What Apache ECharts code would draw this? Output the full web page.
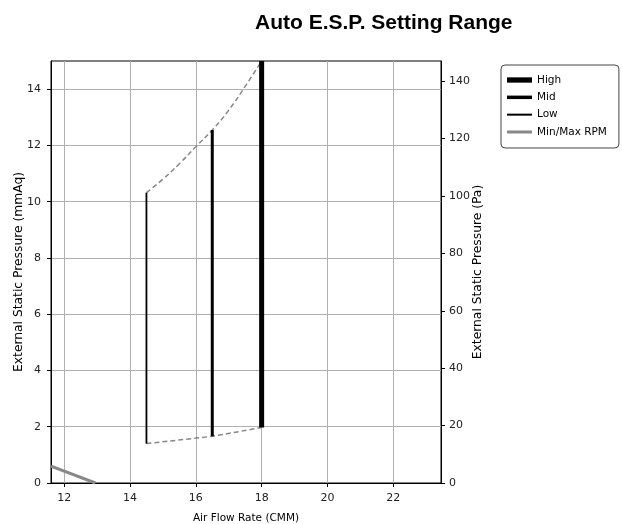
<!DOCTYPE html>
<html><head><meta charset="utf-8">
<script src="https://cdn.jsdelivr.net/npm/echarts@6/dist/echarts.min.js"></script>
<style>html,body{margin:0;padding:0;background:#fff}#c{width:622px;height:524px}</style>
</head><body><div id="c"></div>
<script>
const xTicks = [12, 14, 16, 18, 20, 22];
const yTicksMm = [0, 2, 4, 6, 8, 10, 12, 14];
const yTicksPa = [0, 20, 40, 60, 80, 100, 120, 140];
const highLine = [[18, 1.97], [18, 15.0]];
const midLine = [[16.5, 1.66], [16.5, 12.55]];
const lowLine = [[14.5, 1.4], [14.5, 10.32]];
const upperBound = [[14.5, 10.32], [15.0, 10.8], [15.5, 11.35], [16.0, 11.95], [16.5, 12.55], [17.0, 13.25], [17.5, 14.1], [18.0, 15.0]];
const lowerBound = [[14.5, 1.4], [16.5, 1.66], [18.0, 1.97]];
const minMaxRpm = [[11.6, 0.6], [12.95, 0.0]];

const font = 'DejaVu Sans';
const chart = echarts.init(document.getElementById('c'), null, {renderer: 'canvas'});
chart.setOption({
  animation: false,
  backgroundColor: '#fff',
  title: {text: 'Auto E.S.P. Setting Range', left: 250, top: 8,
    textStyle: {fontFamily: 'Liberation Sans', fontWeight: 'bold', fontSize: 21, color: '#000'}},
  grid: {left: 51, right: 181, top: 61, bottom: 41, containLabel: false, outerBoundsMode: 'none',
    show: true, borderColor: '#000', borderWidth: 1, backgroundColor: 'transparent'},
  legend: {
    left: 501, top: 65, orient: 'vertical', itemWidth: 25, itemHeight: 10, itemGap: 6.33,
    padding: [9.5, 12, 10.5, 6],
    borderColor: '#444', borderWidth: 1, borderRadius: 4,
    textStyle: {fontFamily: font, fontSize: 10.5, color: '#000'},
    data: [
      {name: 'High', icon: 'path://M0,0H50V10.6H0Z'},
      {name: 'Mid', icon: 'path://M0,0H50V7H0Z'},
      {name: 'Low', icon: 'path://M0,0H50V4H0Z'},
      {name: 'Min/Max RPM', icon: 'path://M0,0H50V6H0Z'}
    ]
  },
  xAxis: {
    type: 'value', min: 11.6, max: 23.45,
    name: 'Air Flow Rate (CMM)', nameLocation: 'middle', nameGap: 30,
    nameTextStyle: {fontFamily: font, fontSize: 10.5, color: '#000'},
    axisLine: {lineStyle: {color: '#000'}},
    axisTick: {customValues: xTicks, inside: false, length: 4, lineStyle: {color: '#000'}},
    axisLabel: {customValues: xTicks, fontFamily: font, fontSize: 11, color: '#222', margin: 10},
    splitLine: {show: true, lineStyle: {color: '#b0b0b0', width: 1}}
  },
  yAxis: [{
    type: 'value', min: 0, max: 15, position: 'left',
    name: 'External Static Pressure (mmAq)', nameLocation: 'middle', nameGap: 26.5, nameRotate: 90,
    nameMoveOverlap: false,
    nameTextStyle: {fontFamily: font, fontSize: 12.3, color: '#000'},
    axisLine: {show: true, lineStyle: {color: '#000'}},
    axisTick: {show: true, customValues: yTicksMm, length: 4, lineStyle: {color: '#000'}},
    axisLabel: {customValues: yTicksMm, fontFamily: font, fontSize: 11, color: '#222', margin: 10},
    splitLine: {show: true, lineStyle: {color: '#b0b0b0', width: 1}}
  }, {
    type: 'value', min: 0, max: 147, position: 'right',
    name: 'External Static Pressure (Pa)', nameLocation: 'middle', nameGap: 31, nameRotate: 90,
    nameMoveOverlap: false,
    nameTextStyle: {fontFamily: font, fontSize: 12.3, color: '#000'},
    axisLine: {show: true, lineStyle: {color: '#000'}},
    axisTick: {show: true, customValues: yTicksPa, length: 4, lineStyle: {color: '#000'}},
    axisLabel: {customValues: yTicksPa, fontFamily: font, fontSize: 11, color: '#222', margin: 8},
    splitLine: {show: false}
  }],
  series: [
    {name: 'High', type: 'line', data: highLine, symbol: 'none', lineStyle: {color: '#000', width: 5}, itemStyle: {color: '#000'}, z: 5},
    {name: 'Mid', type: 'line', data: midLine, symbol: 'none', lineStyle: {color: '#000', width: 3}, itemStyle: {color: '#000'}, z: 5},
    {name: 'Low', type: 'line', data: lowLine, symbol: 'none', lineStyle: {color: '#000', width: 1.8}, itemStyle: {color: '#000'}, z: 5},
    {name: 'Min/Max RPM', type: 'line', data: minMaxRpm, symbol: 'none', clip: true, lineStyle: {color: '#888', width: 3}, itemStyle: {color: '#888'}, z: 4},
    {name: 'upper', type: 'line', data: upperBound, symbol: 'none', smooth: true, lineStyle: {color: '#888', width: 1.5, type: [5, 3]}, z: 3},
    {name: 'lower', type: 'line', data: lowerBound, symbol: 'none', lineStyle: {color: '#888', width: 1.5, type: [5, 3]}, z: 3}
  ]
});
</script></body></html>
